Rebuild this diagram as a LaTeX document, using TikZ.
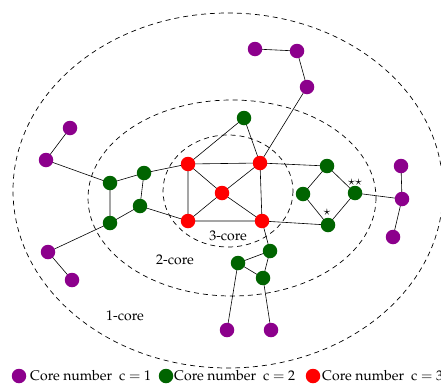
\documentclass[tikz,border=0pt]{standalone}
\usepackage[T1]{fontenc}
\usepackage{mathpazo}
\usetikzlibrary{backgrounds}
\definecolor{cpur}{RGB}{140,0,140}
\definecolor{cgrn}{RGB}{0,100,0}
\definecolor{cred}{RGB}{255,0,0}
\tikzset{
  vtx/.style={circle,inner sep=0pt,minimum size=14.5pt},
  pv/.style={vtx,fill=cpur},
  gv/.style={vtx,fill=cgrn},
  rv/.style={vtx,fill=cred},
  edge/.style={line width=0.6pt},
  coreline/.style={dash pattern=on 5pt off 4pt,line width=0.7pt},
  lbl/.style={font=\fontsize{14}{16}\selectfont,inner sep=0pt},
  star/.style={font=\fontsize{13}{13}\selectfont,inner sep=0pt}
}
\begin{document}
\begin{tikzpicture}[x=1pt,y=-1pt]
\useasboundingbox (0,0) rectangle (441,383);
% nodes
\node[pv] (p1) at (255,49) {};
\node[pv] (p2) at (297,51) {};
\node[pv] (p3) at (307,87) {};
\node[pv] (p4) at (70,128) {};
\node[pv] (p5) at (46,160) {};
\node[pv] (p6) at (48,252) {};
\node[pv] (p7) at (72,280) {};
\node[pv] (p8) at (401,166) {};
\node[pv] (p9) at (402,199) {};
\node[pv] (p10) at (393,237) {};
\node[pv] (p11) at (227,330) {};
\node[pv] (p12) at (271,330) {};
\node[gv] (g1) at (244,118) {};
\node[gv] (g2) at (110,183) {};
\node[gv] (g3) at (144,173) {};
\node[gv] (g4) at (140,206) {};
\node[gv] (g5) at (110,223) {};
\node[gv] (g6) at (327,166) {};
\node[gv] (g7) at (303,194) {};
\node[gv] (g8) at (355,193) {};
\node[gv] (g9) at (328,225) {};
\node[gv] (g10) at (270,251) {};
\node[gv] (g11) at (238,263) {};
\node[gv] (g12) at (263,278) {};
\node[rv] (r1) at (188,164) {};
\node[rv] (r2) at (260,163) {};
\node[rv] (r3) at (222,193) {};
\node[rv] (r4) at (188,221) {};
\node[rv] (r5) at (262,221) {};
\begin{pgfonlayer}{background}
% core ellipses
\draw[coreline] (228,190.5) ellipse [x radius=215,y radius=177.5];
\draw[coreline] (232,198) ellipse [x radius=144,y radius=98];
\draw[coreline] (228,191) ellipse [x radius=65,y radius=56];
% edges
\draw[edge] (p1.center)--(p2.center) (p2.center)--(p3.center) (p3.center)--(r2.center)
  (p4.center)--(p5.center) (p5.center)--(g2.center) (p6.center)--(g5.center) (p6.center)--(p7.center)
  (p8.center)--(p9.center) (p9.center)--(p10.center) (p9.center)--(g8.center)
  (p11.center)--(g11.center) (p12.center)--(g12.center)
  (g1.center)--(r1.center) (g1.center)--(r2.center)
  (g2.center)--(g3.center) (g2.center)--(g5.center) (g3.center)--(g4.center) (g4.center)--(g5.center)
  (g3.center)--(r1.center) (g4.center)--(r4.center)
  (r1.center)--(r2.center) (r1.center)--(r4.center) (r2.center)--(r5.center) (r4.center)--(r5.center)
  (r1.center)--(r3.center) (r2.center)--(r3.center) (r3.center)--(r4.center) (r3.center)--(r5.center)
  (r2.center)--(g6.center) (r5.center)--(g9.center)
  (g6.center)--(g7.center) (g7.center)--(g9.center) (g6.center)--(g8.center) (g9.center)--(g8.center)
  (r5.center)--(g10.center) (g10.center)--(g11.center) (g11.center)--(g12.center) (g12.center)--(g10.center);
\end{pgfonlayer}
% stars
\node[star] (s2) at (355,182) {$\star\star$};
\node[star] (s1) at (327,212) {$\star$};
% labels
\node[lbl] (l3) at (228,236) {3-core};
\node[lbl] (l2) at (175,260) {2-core};
\node[lbl] (l1) at (125,316) {1-core};
% legend
\node[pv] (k1) at (19,376) {};
\node[lbl,anchor=west] (t1) at (30,376) {Core number\ \ c $=$ 1};
\node[gv] (k2) at (166,376) {};
\node[lbl,anchor=west] (t2) at (174,376) {Core number\ \ c $=$ 2};
\node[rv] (k3) at (313,376) {};
\node[lbl,anchor=west] (t3) at (322,376) {Core number\ \ c $=$ 3};
\end{tikzpicture}
\end{document}
